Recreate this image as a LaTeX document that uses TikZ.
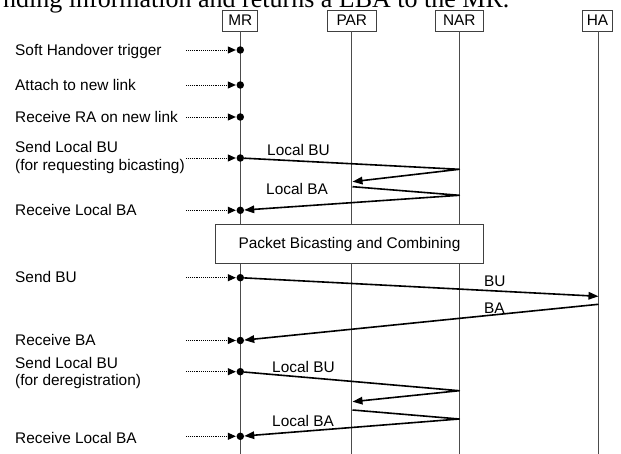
\documentclass[tikz,border=0pt]{standalone}
\usepackage{fontspec}
\setmainfont{Liberation Sans}
\newfontfamily\topserif{Liberation Serif}
\usetikzlibrary{arrows.meta}
\begin{document}
\begin{tikzpicture}[x=1pt,y=-1pt,
  every node/.style={font=\fontsize{15.4}{17.5}\selectfont, inner sep=0pt},
  actor/.style={draw=black!75, line width=0.9pt, minimum height=21pt, fill=white},
  life/.style={draw=black!70, line width=1pt},
  lbl/.style={anchor=base west},
  msg/.style={line width=1.6pt, line join=round, -{Triangle[length=10pt,width=7.5pt]}},
  cue/.style={densely dotted, line width=0.9pt, -{Triangle[length=8pt,width=7pt]}, shorten >=0.5pt},
  evt/.style={circle, fill=black, minimum size=7.5pt, inner sep=0pt},
  phase/.style={draw=black!75, line width=0.9pt, fill=white}
]
\useasboundingbox (0,0) rectangle (621,454);
\fill[white] (0,0) rectangle (621,454);
% clipped heading line from the surrounding document
\begin{scope}
\clip (0,0) rectangle (621,454);
\node[anchor=base west, font=\topserif\fontsize{26}{30}\selectfont] (head) at (3,8) {nding information and returns a LBA to the MR.};
\end{scope}

% actors
\node[actor, minimum width=35pt]   (mr)  at (240.3,20.5) {MR};
\node[actor, minimum width=48.3pt] (par) at (351.8,20.5) {PAR};
\node[actor, minimum width=47.3pt] (nar) at (459.3,20.5) {NAR};
\node[actor, minimum width=30.3pt] (ha)  at (597.5,20.5) {HA};

% lifelines
\coordinate (mrE)  at (240.3,454);
\coordinate (parE) at (351.8,454);
\coordinate (narE) at (459.3,454);
\coordinate (haE)  at (598.5,454);
\draw[life] (mr.south) -- (mrE);
\draw[life] (par.south) -- (parE);
\draw[life] (nar.south) -- (narE);
\draw[life] (ha.south -| haE) -- (haE);

% phase box
\node[phase, minimum width=267.6pt, minimum height=39.7pt] (pbc) at (349.5,244.1) {Packet Bicasting and Combining};

% events on MR
\node[evt] (d1) at (240.3,50) {};
\node[evt] (d2) at (240.3,85) {};
\node[evt] (d3) at (240.3,117) {};
\node[evt] (d4) at (240.3,158) {};
\node[evt] (d5) at (240.3,210.3) {};
\node[evt] (d6) at (240.3,277.7) {};
\node[evt] (d7) at (240.3,340.5) {};
\node[evt] (d8) at (240.3,371.7) {};
\node[evt] (d9) at (240.3,436.3) {};

% cue arrows
\coordinate (c1) at (186,50);
\coordinate (c2) at (186,85);
\coordinate (c3) at (186,117);
\coordinate (c4) at (186,158);
\coordinate (c5) at (186,210.3);
\coordinate (c6) at (186,277.7);
\coordinate (c7) at (186,340.5);
\coordinate (c8) at (186,371.7);
\coordinate (c9) at (186,436.3);
\foreach \i in {1,...,9} { \draw[cue] (c\i) -- (d\i); }

% left labels
\node[lbl] (t1)  at (15,56)    {Soft Handover trigger};
\node[lbl] (t2)  at (15,91)    {Attach to new link};
\node[lbl] (t3)  at (15,122.3) {Receive RA on new link};
\node[lbl] (t4a) at (15,152.7) {Send Local BU};
\node[lbl] (t4b) at (15,170.5) {(for requesting bicasting)};
\node[lbl] (t5)  at (15,216)   {Receive Local BA};
\node[lbl] (t6)  at (15,282.3) {Send BU};
\node[lbl] (t7)  at (15,345.7) {Receive BA};
\node[lbl] (t8a) at (15,368.3) {Send Local BU};
\node[lbl] (t8b) at (15,385.5) {(for deregistration)};
\node[lbl] (t9)  at (15,443.3) {Receive Local BA};

% message anchor points
\coordinate (n1) at (459.3,169.3);
\coordinate (p1) at (352.5,181.7);
\coordinate (p2) at (352.5,186.7);
\coordinate (n2) at (459.3,195.3);
\coordinate (h1) at (598.5,296.3);
\coordinate (h2) at (598.5,304.3);
\coordinate (n3) at (459.3,390.7);
\coordinate (p3) at (352.5,401.7);
\coordinate (p4) at (352.5,410);
\coordinate (n4) at (459.3,419);

% messages
\draw[msg] (d4) -- (n1) -- (p1);
\draw[msg] (p2) -- (n2) -- (d5);
\draw[msg] (d6) -- (h1);
\draw[msg] (h2) -- (d7);
\draw[msg] (d8) -- (n3) -- (p3);
\draw[msg] (p4) -- (n4) -- (d9);

% message labels
\node[lbl] (l1) at (267,156)   {Local BU};
\node[lbl] (l2) at (266,195)   {Local BA};
\node[lbl] (l3) at (484,287)   {BU};
\node[lbl] (l4) at (484,313)   {BA};
\node[lbl] (l5) at (272,372)   {Local BU};
\node[lbl] (l6) at (272,426.5) {Local BA};
\end{tikzpicture}
\end{document}
